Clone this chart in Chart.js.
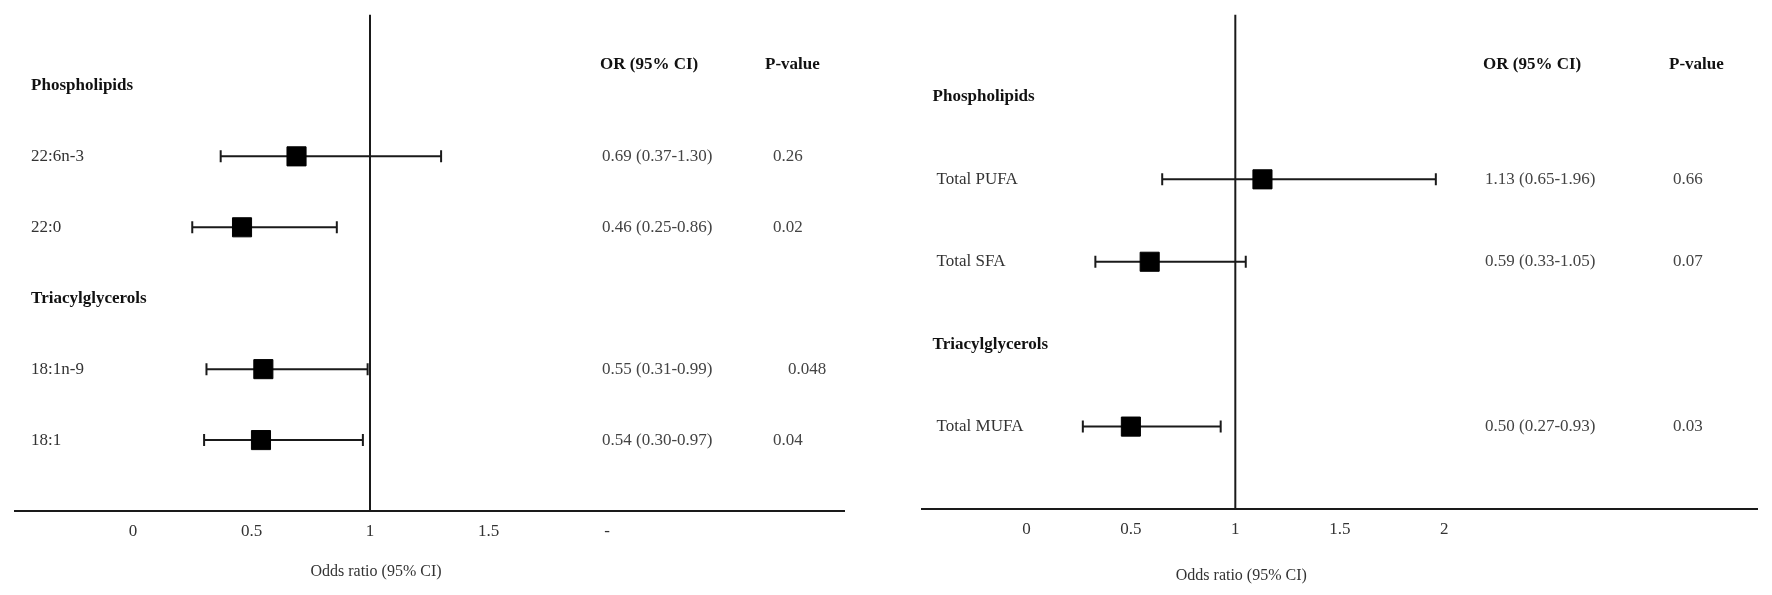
<!DOCTYPE html>
<html>
<head>
<meta charset="utf-8">
<script src="https://cdn.jsdelivr.net/npm/chart.js@4"></script>
<style>
  html, body { margin: 0; padding: 0; background: #fff; }
  #wrap { position: relative; width: 1772px; height: 595px; }
  .pane { position: absolute; top: 0; width: 886px; height: 595px; }
</style>
</head>
<body>
<div id="wrap">
  <div class="pane" style="left:0"><canvas id="left"></canvas></div>
  <div class="pane" style="left:886px"><canvas id="right"></canvas></div>
</div>
<script>
"use strict";

/* left panel: single fatty acids */
const ROWS_A = ["Phospholipids", "22:6n-3", "22:0", "Triacylglycerols", "18:1n-9", "18:1"];
const GROUP_A = [true, false, false, true, false, false];
const OR_A = [null, 0.69, 0.46, null, 0.55, 0.54];
const LO_A = [null, 0.37, 0.25, null, 0.31, 0.30];
const HI_A = [null, 1.30, 0.86, null, 0.99, 0.97];
const P_A = ["", "0.26", "0.02", "", "0.048", "0.04"];
const TICKS_A = [0, 0.5, 1, 1.5, 2];
const TICK_LABELS_A = ["0", "0.5", "1", "1.5", "-"];

/* right panel: fatty acid classes */
const ROWS_B = ["Phospholipids", "Total PUFA", "Total SFA", "Triacylglycerols", "Total MUFA"];
const GROUP_B = [true, false, false, true, false];
const OR_B = [null, 1.13, 0.59, null, 0.50];
const LO_B = [null, 0.65, 0.33, null, 0.27];
const HI_B = [null, 1.96, 1.05, null, 0.93];
const P_B = ["", "0.66", "0.07", "", "0.03"];
const TICKS_B = [0, 0.5, 1, 1.5, 2];
const TICK_LABELS_B = ["0", "0.5", "1", "1.5", "2"];

const SERIF = "'Liberation Serif', 'Times New Roman', serif";
const INK = "#1a1a1a";
const f2 = (v) => v.toFixed(2);

/* row labels, OR / P table and axis title, all placed from the scales */
const forestText = {
  id: "forestText",
  afterDraw(chart, args, o) {
    const { ctx, scales: { x, y }, chartArea } = chart;
    const n = o.rows.length;
    ctx.save();
    ctx.textBaseline = "middle";
    ctx.textAlign = "left";
    const headY = chartArea.top + o.headOffset;
    ctx.font = "bold 17px " + SERIF; ctx.fillStyle = "#111";
    ctx.fillText("OR (95% CI)", o.orX, headY);
    ctx.fillText("P-value", o.pHeadX, headY);
    o.rows.forEach((r, i) => {
      const yy = y.getPixelForValue(n - i);
      ctx.font = (o.group[i] ? "bold " : "") + "17px " + SERIF;
      ctx.fillStyle = o.group[i] ? "#111" : "#333";
      ctx.fillText(r, x.getPixelForValue(o.labelX) + (o.group[i] ? o.groupShift : 0), yy);
      if (o.or[i] == null) return;
      ctx.font = "17px " + SERIF; ctx.fillStyle = "#444";
      ctx.fillText(`${f2(o.or[i])} (${f2(o.lo[i])}-${f2(o.hi[i])})`, o.orX + 2, yy);
      ctx.fillText(o.p[i], o.pX + (o.p[i].length > 4 ? 15 : 0), yy);
    });
    ctx.textAlign = "center";
    ctx.font = "16px " + SERIF; ctx.fillStyle = "#333";
    ctx.fillText("Odds ratio (95% CI)", x.getPixelForValue(1) + 6, chartArea.bottom + o.titleOffset);
    ctx.restore();
  },
};

function forest(id, rows, group, or, lo, hi, p, ticks, tickLabels, xmax, lay) {
  const n = rows.length;
  const yOf = (i) => n - i;
  const datasets = [{
    data: [{ x: 1, y: 0 }, { x: 1, y: n + 1 }], showLine: true,
    borderColor: INK, borderWidth: 2, pointRadius: 0, order: 2,
  }];
  rows.forEach((r, i) => {
    if (or[i] == null) return;
    datasets.push({
      data: [{ x: lo[i], y: yOf(i) }, { x: hi[i], y: yOf(i) }], showLine: true,
      borderColor: INK, borderWidth: 2, pointStyle: "line", rotation: 90,
      pointRadius: 6, pointBorderWidth: 2, pointBorderColor: INK, order: 1,
    });
  });
  datasets.push({
    data: rows.map((r, i) => or[i] == null ? null : { x: or[i], y: yOf(i) }).filter(Boolean),
    pointStyle: "rect", pointRadius: 13.5, backgroundColor: "#000",
    borderColor: "#000", borderWidth: 1, order: 0,
  });

  return new Chart(document.getElementById(id), {
    type: "scatter",
    data: { datasets },
    options: {
      responsive: true, maintainAspectRatio: false, animation: false,
      layout: { padding: { left: lay.left, right: lay.right, top: 5, bottom: 0 } },
      plugins: {
        legend: { display: false }, tooltip: { enabled: false },
        forestText: { rows, group, or, lo, hi, p, labelX: -0.43,
          groupShift: lay.groupShift, orX: lay.orX, pHeadX: lay.pHeadX, pX: lay.pX,
          headOffset: 50, titleOffset: lay.titleOffset },
      },
      scales: {
        x: {
          type: "linear", min: -0.5, max: xmax,
          grid: { display: false, drawTicks: false },
          border: { display: true, color: INK, width: 2 },
          afterBuildTicks: (s) => { s.ticks = ticks.map((v) => ({ value: v })); },
          afterFit: (s) => { s.height = lay.axisH; },
          ticks: {
            padding: 10, color: "#333", font: { family: SERIF, size: 17 },
            maxRotation: 0, autoSkip: false,
            callback: (v) => tickLabels[ticks.indexOf(v)],
          },
        },
        y: { type: "linear", display: false, min: 0, max: n + 1 },
      },
    },
    plugins: [forestText],
  });
}

forest("left", ROWS_A, GROUP_A, OR_A, LO_A, HI_A, P_A, TICKS_A, TICK_LABELS_A, 3.0,
  { left: 14, right: 42, axisH: 84, groupShift: 0, orX: 600, pHeadX: 765, pX: 773, titleOffset: 61 });
forest("right", ROWS_B, GROUP_B, OR_B, LO_B, HI_B, P_B, TICKS_B, TICK_LABELS_B, 3.5,
  { left: 36, right: 8, axisH: 86, groupShift: -4, orX: 597, pHeadX: 783, pX: 787, titleOffset: 67 });
</script>
</body>
</html>
